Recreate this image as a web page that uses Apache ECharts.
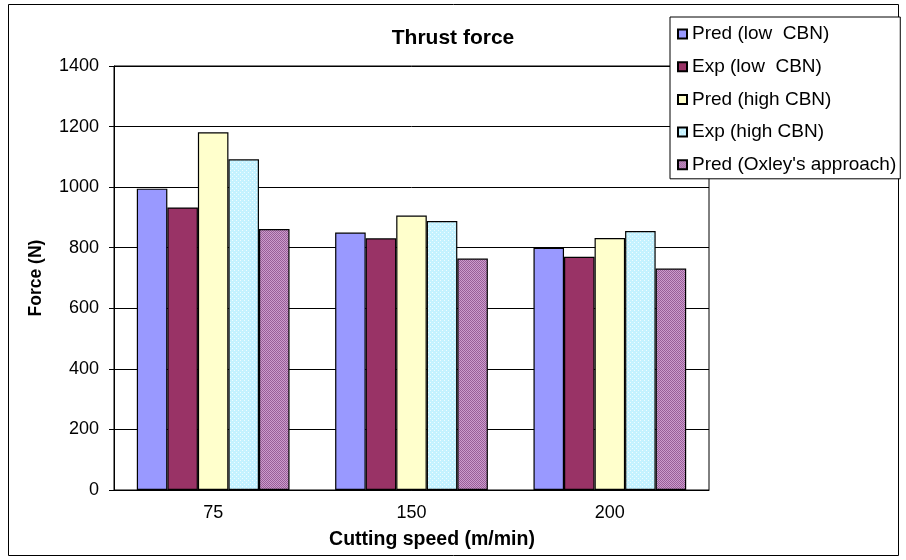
<!DOCTYPE html>
<html>
<head>
<meta charset="utf-8">
<script src="https://cdn.jsdelivr.net/npm/echarts@6/dist/echarts.min.js"></script>
<style>html,body{margin:0;padding:0;background:#fff;}#c{width:906px;height:560px;}</style>
</head>
<body>
<div id="c"></div>
<script>
const categories = ['75', '150', '200'];
const predLow = [995, 850, 800];
const expLow = [933, 831, 770];
const predHigh = [1181, 906, 832];
const expHigh = [1092, 888, 855];
const predOxley = [862, 764, 731];
const seriesNames = ['Pred (low  CBN)', 'Exp (low  CBN)', 'Pred (high CBN)', 'Exp (high CBN)', "Pred (Oxley's approach)"];
const yTicks = [0, 200, 400, 600, 800, 1000, 1200, 1400];

function pattern(bg, fg, kind) {
  const cv = document.createElement('canvas');
  cv.width = 4; cv.height = 4;
  const ctx = cv.getContext('2d');
  ctx.fillStyle = bg; ctx.fillRect(0, 0, 4, 4);
  ctx.fillStyle = fg;
  if (kind === 'checker') {
    ctx.fillRect(0, 0, 1, 1); ctx.fillRect(2, 0, 1, 1);
    ctx.fillRect(1, 1, 1, 1); ctx.fillRect(3, 1, 1, 1);
    ctx.fillRect(0, 2, 1, 1); ctx.fillRect(2, 2, 1, 1);
    ctx.fillRect(1, 3, 1, 1); ctx.fillRect(3, 3, 1, 1);
  } else {
    ctx.fillRect(0, 0, 1, 1); ctx.fillRect(2, 2, 1, 1);
  }
  return { image: cv, repeat: 'repeat' };
}

const FONT = "'Liberation Sans', Arial, sans-serif";
const colors = ['#9999FF', '#993366', '#FFFFCC', pattern('#C4F2FF', '#F0FCFF', 'dots'), pattern('#CC9CCC', '#985E98', 'checker')];
const values = [predLow, expLow, predHigh, expHigh, predOxley];

const chart = echarts.init(document.getElementById('c'), null, { renderer: 'canvas' });
chart.setOption({
  animation: false,
  backgroundColor: '#fff',
  title: {
    text: 'Thrust force', left: 'center', top: 23,
    textStyle: { fontFamily: FONT, fontSize: 21, fontWeight: 'bold', color: '#000' }
  },
  legend: {
    orient: 'vertical', left: 670, top: 17,
    padding: [7, 4, 4, 7],
    itemWidth: 9, itemHeight: 9, itemGap: 12.7,
    borderColor: '#000', borderWidth: 1, backgroundColor: '#fff',
    icon: 'rect',
    textStyle: { fontFamily: FONT, fontSize: 19, lineHeight: 20, color: '#000' },
    data: seriesNames
  },
  grid: { left: 114, right: 197, top: 66, bottom: 70, show: true, borderColor: '#000', borderWidth: 1 },
  xAxis: {
    type: 'category', data: categories,
    axisLine: { lineStyle: { color: '#000', width: 1 } },
    axisTick: { show: false },
    axisLabel: { fontFamily: FONT, fontSize: 18, color: '#000', margin: 14 }
  },
  yAxis: {
    type: 'value', min: yTicks[0], max: yTicks[yTicks.length - 1], interval: 200,
    axisLine: { show: true, lineStyle: { color: '#000', width: 1 } },
    axisTick: { show: true, length: 5, lineStyle: { color: '#000' } },
    axisLabel: { fontFamily: FONT, fontSize: 18, color: '#000', margin: 15, formatter: v => String(v) },
    splitLine: { show: true, lineStyle: { color: '#000', width: 1 } }
  },
  graphic: [
    { type: 'rect', shape: { x: 8.5, y: 4.5, width: 890, height: 551 }, style: { fill: 'none', stroke: '#000', lineWidth: 1 }, silent: true, z: -1 },
    { type: 'text', x: 36, y: 278, rotation: Math.PI / 2, style: { text: 'Force (N)', fontFamily: FONT, fontSize: 17.5, fontWeight: 'bold', fill: '#000', align: 'center', verticalAlign: 'middle' } },
    { type: 'text', x: 432, y: 540, style: { text: 'Cutting speed (m/min)', fontFamily: FONT, fontSize: 19.5, fontWeight: 'bold', fill: '#000', align: 'center', verticalAlign: 'middle' } }
  ],
  series: values.map((v, i) => ({
    name: seriesNames[i], type: 'bar', data: v,
    barGap: '0%', barCategoryGap: '23%',
    itemStyle: { color: colors[i], borderColor: '#000', borderWidth: 1.2 }
  }))
});
</script>
</body>
</html>
